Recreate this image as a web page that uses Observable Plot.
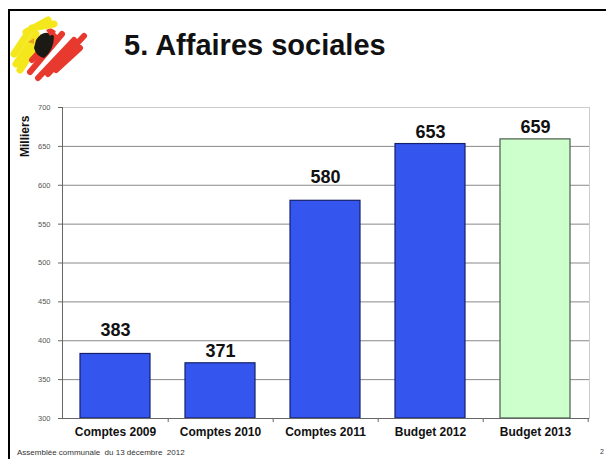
<!DOCTYPE html>
<html>
<head>
<meta charset="utf-8">
<script src="https://cdn.jsdelivr.net/npm/d3@7"></script>
<script src="https://cdn.jsdelivr.net/npm/@observablehq/plot@0.6"></script>
<style>
  html, body { margin: 0; padding: 0; background: #fff; }
  #page { position: relative; width: 606px; height: 459px; overflow: hidden; background: #fff; font-family: "Liberation Sans", Arial, sans-serif; }
  #frame { position: absolute; left: 8px; top: 9px; width: 640px; height: 480px; border-left: 2px solid #000; border-top: 2px solid #000; }
  #title { position: absolute; left: 124px; top: 29px; font-size: 29px; font-weight: bold; color: #111; white-space: nowrap; }
  #logo { position: absolute; left: 10px; top: 14px; }
  #chart { position: absolute; left: 0; top: 95px; }
  #ylab { position: absolute; left: 18px; top: 157px; transform: rotate(-90deg); transform-origin: 0 0; font-size: 12px; font-weight: bold; color: #111; white-space: nowrap; }
  #foot { position: absolute; left: 17px; top: 448px; font-size: 8px; color: #333; white-space: pre; }
  #page-no { position: absolute; left: 600px; top: 448px; font-size: 7px; color: #333; }
</style>
</head>
<body>
<div id="page">
  <div id="frame"></div>
  <svg id="logo" width="80" height="68" viewBox="0 0 80 68">
    <path d="M6 50 L26 20 M10 56 L30 26 M4 40 L20 16 M16 18 L38 6 M22 14 L44 10" stroke="#f4e81c" stroke-width="7" stroke-linecap="round" fill="none"/>
    <path d="M20 58 L52 20 M28 64 L64 26 M38 60 L74 22 M46 56 L70 34 M22 46 L44 22" stroke="#e8392f" stroke-width="6" stroke-linecap="round" fill="none"/>
    <path d="M26 26 Q34 14 44 22 Q44 36 34 44 Q26 42 24 34 Z" fill="#1c1a14"/>
    <path d="M36 16 Q42 12 46 18 L40 22 Z" fill="#e8392f"/>
    <path d="M24 24 L18 28 L24 30 Z" fill="#e8a020"/>
  </svg>
  <div id="title">5. Affaires sociales</div>
  <div id="ylab">Milliers</div>
  <div id="chart"></div>
  <div id="foot">Assemblée communale  du 13 décembre  2012</div>
  <div id="page-no">2</div>
</div>
<script>
const categories = ["Comptes 2009", "Comptes 2010", "Comptes 2011", "Budget 2012", "Budget 2013"];
const values = [383, 371, 580, 653, 659];
const kinds = ["comptes", "comptes", "comptes", "budget", "projet"];
const yTicks = [300, 350, 400, 450, 500, 550, 600, 650, 700];
const raisedLabels = ["Comptes 2009", "Comptes 2011"];

const data = categories.map((c, i) => ({category: c, value: values[i], kind: kinds[i]}));
const fillOf = k => k === "projet" ? "#ccffcc" : "#3556ee";
const strokeOf = k => k === "projet" ? "#4a5a4a" : "#16206a";

const W = 606, ML = 62, MR = 17;
const step = (W - ML - MR) / categories.length;

const chart = Plot.plot({
  width: W,
  height: 345,
  marginLeft: ML,
  marginRight: MR,
  marginTop: 12,
  marginBottom: 22,
  style: {fontFamily: "Liberation Sans, Arial, sans-serif", background: "transparent"},
  x: {domain: categories, paddingInner: 0.33, paddingOuter: 0.165, label: null},
  y: {domain: [300, 700], clamp: true, label: null, ticks: yTicks},
  marks: [
    Plot.ruleY(yTicks.slice(1, -1), {stroke: "#888", strokeWidth: 1, strokeOpacity: 1}),
    Plot.ruleY([700], {stroke: "#ccc"}),
    Plot.frame({anchor: "right", stroke: "#ccc"}),
    Plot.barY(data, {
      x: "category", y1: () => 300, y2: "value",
      fill: d => fillOf(d.kind), stroke: d => strokeOf(d.kind), strokeWidth: 1.2
    }),
    Plot.text(data.filter(d => !raisedLabels.includes(d.category)), {
      x: "category", y: "value", text: d => String(d.value), dy: -12,
      fontSize: 18, fontWeight: "bold", fill: "#111"
    }),
    Plot.text(data.filter(d => raisedLabels.includes(d.category)), {
      x: "category", y: "value", text: d => String(d.value), dy: -24,
      fontSize: 18, fontWeight: "bold", fill: "#111"
    }),
    Plot.axisY({ticks: yTicks, tickSize: 4, tickPadding: 8, fontSize: 7.5, fill: "#555", stroke: "#666", label: null}),
    Plot.axisX({tickSize: 4, text: null, dx: step / 2, stroke: "#666", label: null}),
    Plot.axisX({tickSize: 0, tickPadding: 9, fontSize: 12, fontWeight: "bold", fill: "#111", label: null}),
    Plot.ruleY([300], {stroke: "#666"}),
    Plot.frame({anchor: "left", stroke: "#666"})
  ]
});
document.getElementById("chart").appendChild(chart);
</script>
</body>
</html>
